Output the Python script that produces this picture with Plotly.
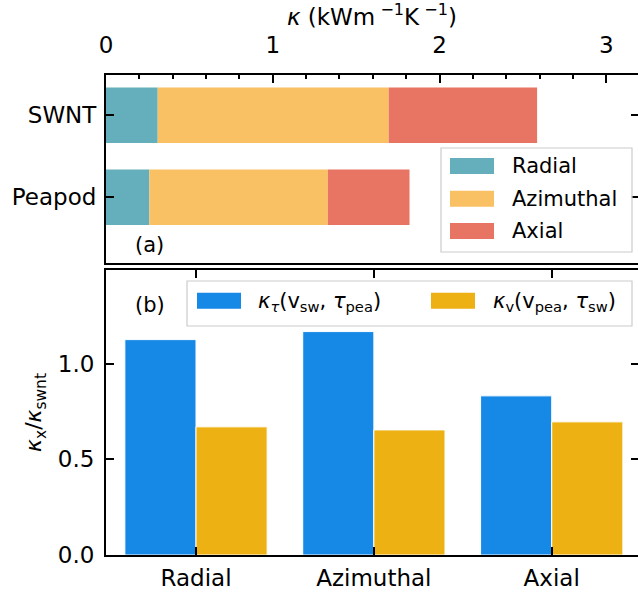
import plotly.graph_objects as go
import numpy as np

# ---------------- data ----------------
tubes = ["Peapod", "SWNT"]
components = ["Radial", "Azimuthal", "Axial"]
kappa_radial = [0.26, 0.31]
kappa_azimuthal = [1.07, 1.385]
kappa_axial = [0.49, 0.89]
comp_colors = ["#64AFBB", "#F9C064", "#E87563"]

ratio_tau = [1.126, 1.168, 0.832]
ratio_v = [0.670, 0.654, 0.696]
ratio_names = [
    "<i>κ</i><sub><i>τ</i></sub>(v<sub>sw</sub>, <i>τ</i><sub>pea</sub>)",
    "<i>κ</i><sub>v</sub>(v<sub>pea</sub>, <i>τ</i><sub>sw</sub>)",
]
ratio_colors = ["#1688E6", "#EDB114"]

top_ticks = [0, 1, 2, 3]
bottom_ticks = [0.0, 0.5, 1.0]

FONT = "DejaVu Sans"
FS = 23

fig = go.Figure()

# ---- panel (a): stacked horizontal bars ----
comp_values = [kappa_radial, kappa_azimuthal, kappa_axial]
base = np.zeros(len(tubes))
for name, vals, col in zip(components, comp_values, comp_colors):
    fig.add_trace(go.Bar(
        y=tubes, x=vals, base=base.copy(), orientation="h", name=name,
        marker=dict(color=col, line=dict(width=0)),
        width=0.675, offset=-0.3375,
        xaxis="x", yaxis="y", showlegend=False,
    ))
    base = base + np.array(vals)

# ---- panel (b): grouped bars ----
for k, (vals, name, col) in enumerate(zip([ratio_tau, ratio_v], ratio_names, ratio_colors)):
    fig.add_trace(go.Bar(
        x=components, y=vals, name=name,
        marker=dict(color=col, line=dict(color="white", width=1)),
        width=0.4, offset=-0.4 + 0.4 * k,
        xaxis="x2", yaxis="y2", showlegend=False,
    ))

# dummy traces for right-side mirror ticks
fig.add_trace(go.Scatter(x=[], y=[], xaxis="x", yaxis="y3", showlegend=False, hoverinfo="skip"))
fig.add_trace(go.Scatter(x=[], y=[], xaxis="x2", yaxis="y4", showlegend=False, hoverinfo="skip"))

L, R, T, B = 106, 0, 75, 38
W, H = 638, 593
PW, PH = W - L - R, H - T - B


def px(xp):
    return (xp - L) / PW


def py(yp):
    return (H - B - yp) / PH


ax_common = dict(showgrid=False, zeroline=False, showline=True, linecolor="black",
                 linewidth=2, ticks="inside", ticklen=8, tickwidth=2, tickcolor="black",
                 tickfont=dict(family=FONT, size=FS, color="black"))

top_dom = [py(263), 1.0]
bot_dom = [0.0, py(270)]

fig.update_layout(
    width=W, height=H, autosize=False,
    margin=dict(l=L, r=R, t=T, b=B),
    plot_bgcolor="white", paper_bgcolor="white",
    showlegend=False,
    font=dict(family=FONT, size=FS, color="black"),
    xaxis=dict(**ax_common, domain=[0, 1], anchor="y", side="top", range=[0, 3.19],
               tickvals=top_ticks, mirror=True, ticklabelstandoff=11,
               minor=dict(dtick=0.2, tick0=0, ticks="inside", ticklen=4, tickwidth=1.5, tickcolor="black"),
               title=dict(text="<i>κ</i> (kWm<sup> −1</sup>K<sup> −1</sup>)",
                          font=dict(family=FONT, size=23), standoff=6)),
    yaxis=dict(**ax_common, domain=top_dom, anchor="x", type="category",
               categoryorder="array", categoryarray=tubes, range=[-0.8, 1.49],
               ticklabelstandoff=3),
    yaxis3=dict(overlaying="y", side="right", anchor="x", range=[-0.8, 1.49],
                tickvals=[0, 1], ticks="inside", ticklen=7, tickwidth=2, tickcolor="black",
                showticklabels=False, showline=False, showgrid=False, zeroline=False),
    xaxis2=dict(**ax_common, domain=[0, 1], anchor="y2", type="category",
                categoryorder="array", categoryarray=components, range=[-0.506, 2.485],
                mirror="ticks", ticklabelstandoff=1),
    yaxis2=dict(**ax_common, domain=bot_dom, anchor="x2", range=[0, 1.49],
                tickvals=bottom_ticks, tickformat=".1f", ticklabelstandoff=5,
                title=dict(text="<i>κ</i><sub>x</sub>/<i>κ</i><sub>swnt</sub>",
                           font=dict(family=FONT, size=22), standoff=10)),
    yaxis4=dict(overlaying="y2", side="right", anchor="x2", range=[0, 1.49],
                tickvals=[0.5, 1.0], ticks="inside", ticklen=7, tickwidth=2, tickcolor="black",
                showticklabels=False, showline=False, showgrid=False, zeroline=False),
)

shapes = []
annotations = []

# legend (a)
shapes.append(dict(type="rect", xref="paper", yref="paper",
                   x0=px(441), x1=px(632), y0=py(252), y1=py(148),
                   line=dict(color="#CCCCCC", width=1.2), fillcolor="rgba(255,255,255,0.8)", layer="above"))
row_y = [166, 198.7, 231]
for name, col, yc in zip(components, comp_colors, row_y):
    shapes.append(dict(type="rect", xref="paper", yref="paper",
                       x0=px(450), x1=px(494), y0=py(yc + 8), y1=py(yc - 8),
                       line=dict(width=0), fillcolor=col, layer="above"))
    annotations.append(dict(xref="paper", yref="paper", x=px(510), y=py(yc),
                            xanchor="left", yanchor="middle", showarrow=False,
                            text=name, font=dict(family=FONT, size=21, color="black")))

# legend (b)
shapes.append(dict(type="rect", xref="paper", yref="paper",
                   x0=px(187), x1=px(632), y0=py(326), y1=py(281),
                   line=dict(color="#CCCCCC", width=1.2), fillcolor="rgba(255,255,255,0.8)", layer="above"))
leg_b_patch = [197, 431]
leg_b_text = [256, 491]
for name, col, xp, xt in zip(ratio_names, ratio_colors, leg_b_patch, leg_b_text):
    shapes.append(dict(type="rect", xref="paper", yref="paper",
                       x0=px(xp), x1=px(xp + 44), y0=py(308.7), y1=py(292.7),
                       line=dict(width=0), fillcolor=col, layer="above"))
    annotations.append(dict(xref="paper", yref="paper", x=px(xt), y=py(302),
                            xanchor="left", yanchor="middle", showarrow=False,
                            text=name, font=dict(family=FONT, size=21, color="black")))

# panel labels
annotations.append(dict(xref="paper", yref="paper", x=px(149), y=py(245), xanchor="center",
                        yanchor="middle", showarrow=False, text="(a)",
                        font=dict(family=FONT, size=21, color="black")))
annotations.append(dict(xref="paper", yref="paper", x=px(149.5), y=py(305), xanchor="center",
                        yanchor="middle", showarrow=False, text="(b)",
                        font=dict(family=FONT, size=21, color="black")))

fig.update_layout(shapes=shapes, annotations=annotations)

fig.write_html("out.html")
